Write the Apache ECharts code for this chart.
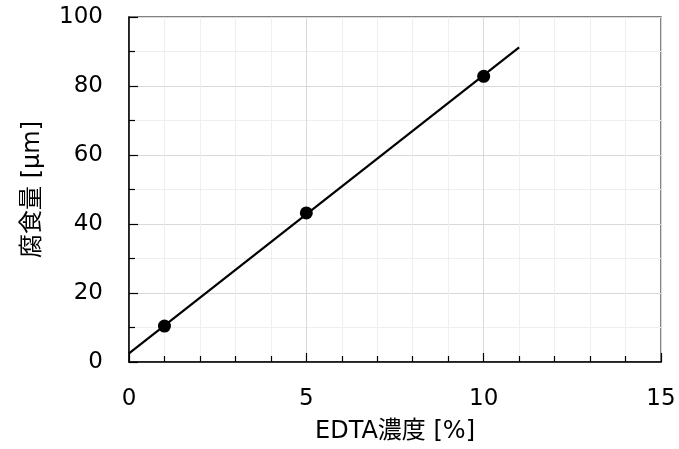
<!DOCTYPE html>
<html>
<head>
<meta charset="utf-8">
<script src="https://cdn.jsdelivr.net/npm/echarts@6/dist/echarts.min.js"></script>
<style>
html,body{margin:0;padding:0;background:#fff;}
#chart{width:679px;height:449px;}
</style>
</head>
<body>
<div id="chart"></div>
<script>
const pointX = [1, 5, 10];
const pointY = [10.4, 43.2, 82.8];
const trendX = [0, 11];
const trendY = [2.5, 91.2];
const xTitle = 'EDTA濃度 [%]';
const yTitle = '腐食量 [μm]';

const FONT = '"DejaVu Sans", "Noto Sans CJK JP", sans-serif';
const chart = echarts.init(document.getElementById('chart'), null, {renderer: 'canvas'});

const axisCommon = {
  axisLine: {show: true, onZero: false, lineStyle: {color: '#000', width: 1.5}},
  axisTick: {show: true, inside: true, length: 9, lineStyle: {color: '#000', width: 1.2}},
  minorTick: {show: true, splitNumber: 5, length: 6, lineStyle: {color: '#000', width: 1.2}},
  splitLine: {show: true, lineStyle: {color: '#d9d9d9', width: 1}},
  minorSplitLine: {show: true, lineStyle: {color: '#efefef', width: 1}},
  axisLabel: {color: '#000', fontSize: 23, fontFamily: FONT},
  nameTextStyle: {color: '#000', fontSize: 24, fontFamily: FONT}
};

chart.setOption({
  animation: false,
  backgroundColor: '#fff',
  grid: {left: 129, right: 18, top: 17, bottom: 86, show: true, borderColor: '#595959', borderWidth: 1.5, backgroundColor: 'transparent'},
  xAxis: Object.assign({}, axisCommon, {
    type: 'value', min: 0, max: 15, interval: 5,
    name: xTitle, nameLocation: 'middle', nameGap: 58,
    axisLabel: Object.assign({}, axisCommon.axisLabel, {margin: 26})
  }),
  yAxis: Object.assign({}, axisCommon, {
    type: 'value', min: 0, max: 100, interval: 20,
    minorTick: Object.assign({}, axisCommon.minorTick, {splitNumber: 2}),
    name: yTitle, nameLocation: 'middle', nameGap: 84, nameRotate: 90,
    axisLabel: Object.assign({}, axisCommon.axisLabel, {margin: 26})
  }),
  series: [
    {
      type: 'line',
      data: trendX.map((x, i) => [x, trendY[i]]),
      symbol: 'none',
      lineStyle: {color: '#000', width: 2.2},
      z: 2
    },
    {
      type: 'scatter',
      data: pointX.map((x, i) => [x, pointY[i]]),
      symbol: 'circle',
      symbolSize: 13,
      itemStyle: {color: '#000', opacity: 1},
      z: 3
    }
  ]
});
</script>
</body>
</html>
